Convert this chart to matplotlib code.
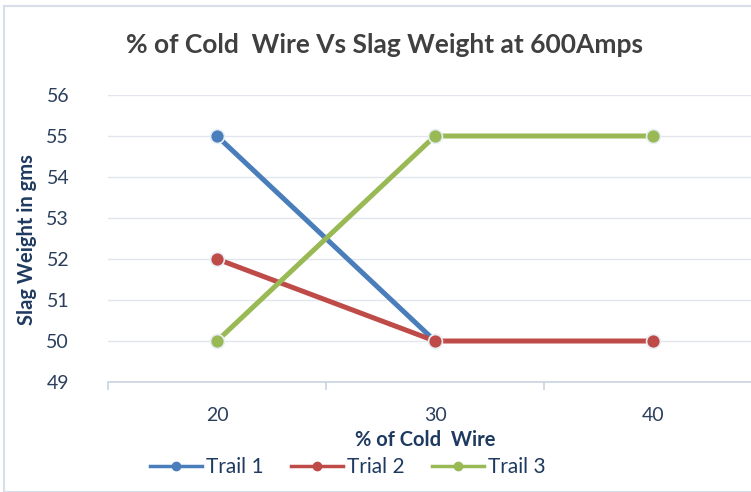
import matplotlib.pyplot as plt
from matplotlib.patches import Rectangle
from matplotlib.lines import Line2D

# data
cold_wire = [20, 30, 40]
trail_1 = [55, 50]          # only 20 and 30 plotted
trial_2 = [52, 50, 50]
trail_3 = [50, 55, 55]

series_names = ["Trail 1", "Trial 2", "Trail 3"]
colors = ["#4A7EBB", "#BE4B48", "#98B954"]

plt.rcParams['font.family'] = ['Lato', 'DejaVu Sans']

fig = plt.figure(figsize=(7.51, 4.92), dpi=100)
ax = fig.add_axes([108 / 751, 1 - 382 / 492, 654 / 751, 287 / 492])

for y, c in zip([trail_1, trial_2, trail_3], colors):
    ax.plot(cold_wire[:len(y)], y, color=c, lw=3.6, marker='o', ms=10,
            mfc=c, mec='#E8EEF6', mew=1.2, solid_capstyle='round', zorder=3)

ax.set_xlim(15, 45)
ax.set_ylim(49, 56)
ax.set_yticks(range(49, 57))
ax.set_xticks(cold_wire)
ax.set_xticks([15, 25, 35], minor=True)
ax.grid(axis='y', color='#E2E6EC', lw=1)
ax.set_axisbelow(True)
for s in ['top', 'right', 'left']:
    ax.spines[s].set_visible(False)
ax.spines['bottom'].set_color('#C9D3E2')
ax.spines['bottom'].set_linewidth(1.2)
ax.tick_params(axis='y', length=0, pad=28, labelsize=14, labelcolor='#2B3F5C')
ax.tick_params(axis='x', which='major', length=0, pad=18, labelsize=14, labelcolor='#2B3F5C')
ax.tick_params(axis='x', which='minor', length=6, color='#C9D3E2', width=1.2)

fig.text(385 / 751, 1 - 45 / 492, "% of Cold  Wire Vs Slag Weight at 600Amps",
         ha='center', va='center', fontsize=19, fontweight='bold', color='#404040')
fig.text(425 / 751, 1 - 440 / 492, "% of Cold  Wire", ha='center', va='center',
         fontsize=14.5, fontweight='bold', color='#1F3A60')
fig.text(27 / 751, 1 - 240 / 492, "Slag Weight in gms", ha='center', va='center',
         rotation=90, fontsize=14.5, fontweight='bold', color='#1F3A60')

handles = [Line2D([], [], color=c, lw=2.5, marker='o', ms=6, mec=c) for c in colors]
fig.legend(handles, series_names, loc='center', bbox_to_anchor=(348 / 751, 1 - 467 / 492),
           ncol=3, frameon=False, fontsize=15, handlelength=2.5, columnspacing=1.3,
           handletextpad=0.2, labelcolor='#1F3A60')

fig.patches.append(Rectangle((4 / 751, 0), 1.0, 1 - 6 / 492, transform=fig.transFigure,
                             fill=False, ec='#D5DEEA', lw=1.5))

fig.savefig("out.png", dpi=100)
